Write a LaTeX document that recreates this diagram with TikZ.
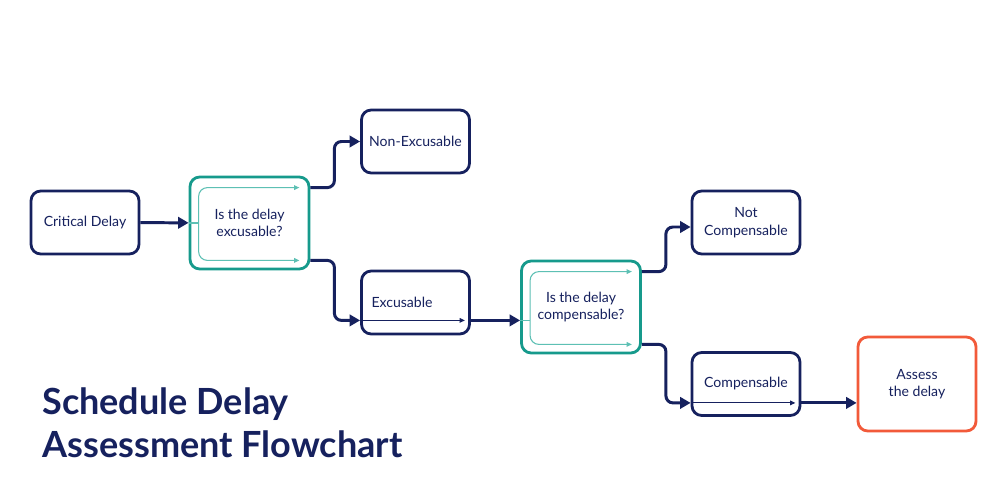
\documentclass[tikz,border=0pt]{standalone}
\usepackage{fontspec}
\setmainfont{Lato}
\usetikzlibrary{positioning,arrows.meta}

\definecolor{navy}{HTML}{16215E}
\definecolor{flowteal}{HTML}{169A8C}
\definecolor{lightteal}{HTML}{5DC0B4}
\definecolor{assessred}{HTML}{F25A3A}

\begin{document}
\begin{tikzpicture}[
  x=0.02cm, y=-0.02cm,
  box/.style={draw=navy, line width=1.6pt, rounded corners=5.5pt, minimum width=2.16cm, minimum height=1.26cm, align=center, text=navy, font=\fontsize{8}{10}\selectfont},
  decision/.style={box, draw=flowteal, minimum width=2.38cm, minimum height=1.84cm},
  assess/.style={box, draw=assessred, minimum width=2.36cm, minimum height=1.88cm},
  title/.style={text=navy, font=\fontsize{20.5}{24}\selectfont\bfseries, inner sep=0pt},
  flow/.style={navy, line width=1.7pt, rounded corners=4pt, -{Triangle[length=6pt,width=6.5pt]}},
  inner/.style={lightteal, line width=0.6pt, rounded corners=5pt, {Triangle[length=3pt,width=2.6pt]}-{Triangle[length=3pt,width=2.6pt]}},
  innerline/.style={lightteal, line width=0.6pt},
  underarrow/.style={navy, line width=0.6pt, -{Triangle[length=3pt,width=2.6pt]}}
]
  \useasboundingbox[fill=white] (0,0) rectangle (1000,500);

  % Nodes
  \node[box] (crit) at (85,222.5) {Critical Delay};
  \node[decision] (excq) at (249.5,223) {Is the delay\\excusable?};
  \node[box] (nonexc) at (415.5,141.5) {Non-Excusable};
  \node[box, text width=1.76cm, inner xsep=0.2cm, align=left] (exc) at (415.5,302.5) {Excusable};
  \node[decision] (compq) at (581,307) {Is the delay\\compensable?};
  \node[box] (notcomp) at (746,222.5) {Not\\Compensable};
  \node[box] (comp) at (746,384) {Compensable};
  \node[assess] (assess) at (917,384) {Assess\\the delay};

  \node[title, anchor=base west] (title1) at (42,414) {Schedule Delay};
  \node[title, anchor=base west] (title2) at (42,457) {Assessment Flowchart};

  % Lines inside the boxes
  \coordinate (excin) at ([shift={(0,-15)}]exc.south west);
  \coordinate (excout) at ([shift={(0,-15)}]exc.south east);
  \coordinate (compin) at ([shift={(0,-14)}]comp.south west);
  \coordinate (compout) at ([shift={(0,-14)}]comp.south east);
  \draw[underarrow] (excin) -- ([shift={(-6,0)}]excout);
  \draw[underarrow] (compin) -- ([shift={(-6,0)}]compout);

  \draw[innerline] (excq.west) -- ([shift={(10,0)}]excq.west);
  \draw[inner] ([shift={(-11,12)}]excq.north east) -| ([shift={(10,0)}]excq.west)
    |- ([shift={(-11,-10)}]excq.south east);
  \draw[innerline] (excout -| compq.west) -- ([shift={(10,0)}]excout -| compq.west);
  \draw[inner] ([shift={(-10,12)}]compq.north east) -| ([shift={(10,0)}]compq.west)
    |- ([shift={(-10,-10)}]compq.south east);

  % Arrows
  \draw[flow] (crit) -- (excq);
  \draw[flow] ([shift={(0,12)}]excq.north east) -- ++(24,0) |- (nonexc.west);
  \draw[flow] ([shift={(0,-10)}]excq.south east) -- ++(24,0) |- (excin);
  \draw[flow] (excout) -- (excout -| compq.west);
  \draw[flow] ([shift={(0,12)}]compq.north east) -- ++(24,0) |- ([shift={(0,4.5)}]notcomp.west);
  \draw[flow] ([shift={(0,-10)}]compq.south east) -- ++(24,0) |- (compin);
  \draw[flow] (compout) -- (compout -| assess.west);
\end{tikzpicture}
\end{document}
